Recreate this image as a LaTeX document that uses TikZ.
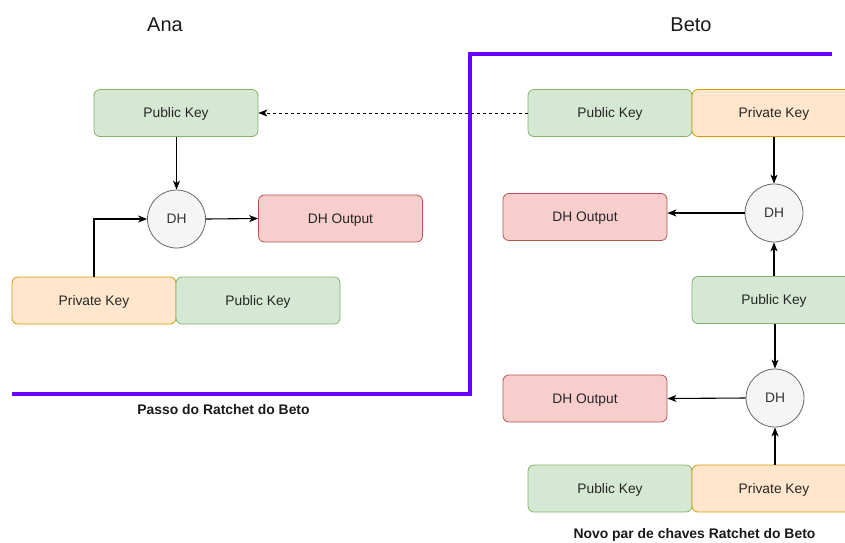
\documentclass[tikz,border=0pt]{standalone}
\usepackage{fontspec}
\setmainfont{Liberation Sans}
\usetikzlibrary{arrows.meta}
\definecolor{pubfill}{HTML}{D5E8D4}
\definecolor{publine}{HTML}{82B366}
\definecolor{privfill}{HTML}{FFE6CC}
\definecolor{privline}{HTML}{D79B00}
\definecolor{outfill}{HTML}{F8CECC}
\definecolor{outline}{HTML}{B85450}
\definecolor{dhfill}{HTML}{F5F5F5}
\definecolor{dhline}{HTML}{666666}
\definecolor{dhtext}{HTML}{333333}
\definecolor{ratchet}{HTML}{6A00FF}
\tikzset{
  keybox/.style={rectangle, rounded corners=6pt, minimum width=164pt, minimum height=47pt,
    line width=0.8pt, inner sep=0pt, text height=9.9pt, text depth=0pt,
    font=\fontsize{13.8}{16}\selectfont, text=black!85},
  pubkey/.style={keybox, fill=pubfill, draw=publine},
  privkey/.style={keybox, fill=privfill, draw=privline},
  dhout/.style={keybox, fill=outfill, draw=outline},
  dhnode/.style={circle, minimum size=58pt, inner sep=0pt, fill=dhfill, draw=dhline,
    line width=0.8pt, text height=9.9pt, text depth=0pt,
    font=\fontsize{13.8}{16}\selectfont, text=dhtext},
  flow/.style={line width=1.1pt, -{Stealth[length=9pt,width=7pt,inset=2.5pt]}},
  title/.style={font=\fontsize{20}{24}\selectfont, text=black!90},
  caption/.style={font=\bfseries\fontsize{13.9}{16}\selectfont, text=black!90},
}
\begin{document}
\begin{tikzpicture}[x=1pt, y=-1pt]
\useasboundingbox (0,0) rectangle (845,542);
\clip (0,0) rectangle (845,542);

% titles
\node[title] (ana) at (165,25) {Ana};
\node[title] (beto) at (691,25) {Beto};

% ratchet boundary
\draw[ratchet, line width=4pt] (12,394) -- (470,394) -- (470,54) -- (832,54);
\node[caption] (cap1) at (223.5,410) {Passo do Ratchet do Beto};
\node[caption] (cap2) at (694.5,535) {Novo par de chaves Ratchet do Beto};

% Ana
\node[pubkey] (apub) at (176,113) {Public Key};
\node[dhnode] (adh) at (176.5,219) {DH};
\node[dhout] (aout) at (340.5,218.5) {DH Output};
\node[privkey] (apriv2) at (94,300.5) {Private Key};
\node[pubkey] (apub2) at (258,300.5) {Public Key};

\draw[flow] (apub.south -| adh.north) -- (adh.north);
\draw[flow] (apriv2.north) |- (adh.west);
\draw[flow] (adh.east) -- (aout.west);

% Beto
\node[pubkey] (bpub) at (610,113) {Public Key};
\node[privkey] (bpriv) at (774,113) {Private Key};
\node[dhnode] (bdh1) at (774,213) {DH};
\node[dhout] (bout1) at (585,217) {DH Output};
\node[pubkey] (bpub2) at (774,300) {Public Key};
\node[dhnode] (bdh2) at (775,398) {DH};
\node[dhout] (bout2) at (585,398.5) {DH Output};
\node[pubkey] (bpub3) at (610,488.5) {Public Key};
\node[privkey] (bpriv3) at (774,488.5) {Private Key};

\draw[flow] (bpriv.south) -- (bdh1.north);
\draw[flow] (bdh1.west) -- (bdh1.west -| bout1.east);
\draw[flow] (bpub2.north) -- (bdh1.south);
\draw[flow] (bpub2.south -| bdh2.north) -- (bdh2.north);
\draw[flow] (bdh2.west) -- (bout2.east);
\draw[flow] (bpriv3.north -| bdh2.south) -- (bdh2.south);

% public key sent to Ana
\draw[flow, line width=0.8pt, dash pattern=on 3pt off 3pt] (bpub.west) -- (apub.east);
\end{tikzpicture}
\end{document}
